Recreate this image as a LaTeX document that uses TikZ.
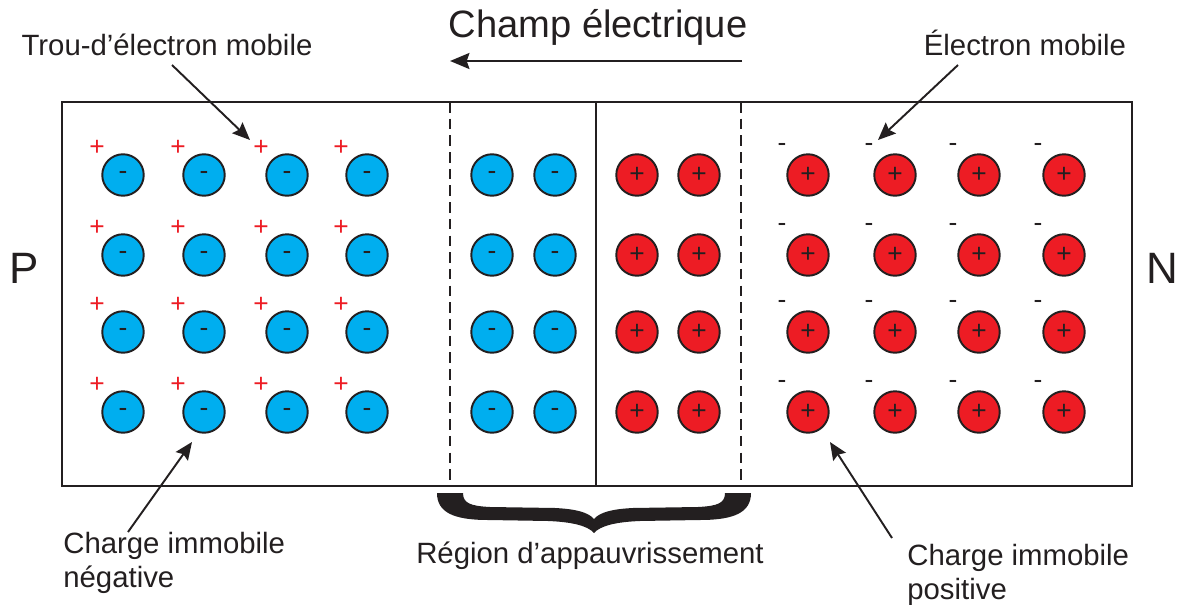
\documentclass[tikz,border=0pt]{standalone}
\usepackage{fontspec}
\setmainfont{Liberation Sans}
\usetikzlibrary{arrows.meta}
\definecolor{ink}{HTML}{231F20}
\definecolor{cblue}{HTML}{00AEEF}
\definecolor{cred}{HTML}{ED1C24}
\begin{document}
\begin{tikzpicture}[x=0.02cm,y=-0.02cm,
  ion/.style={circle,draw=ink,line width=1.1pt,minimum size=23.6pt,inner sep=0pt,font=\fontsize{15}{15}\selectfont,text=ink},
  negion/.style={ion,fill=cblue},
  posion/.style={ion,fill=cred},
  carrier/.style={inner sep=0pt,font=\fontsize{15}{15}\selectfont},
  lbl/.style={inner sep=0pt,font=\fontsize{16.7}{19.3}\selectfont,text=ink},
  pointer/.style={draw=ink,line width=1.1pt,-{Stealth[length=10pt,width=8.5pt,inset=1.5pt]}},
  fieldarrow/.style={draw=ink,line width=1.7pt,-{Stealth[length=11pt,width=9pt,inset=1.5pt]}},
  border/.style={draw=ink,line width=1.3pt},
  dashline/.style={draw=ink,line width=1pt,dash pattern=on 6pt off 3.5pt},
]
\useasboundingbox (0,0) rectangle (1181,605);

% crystal outline and region boundaries
\draw[border] (62,102) rectangle (1132,486);
\draw[dashline] (450,102) -- (450,486);
\draw[dashline] (741,102) -- (741,486);
\draw[draw=ink,line width=1.2pt] (596,102) -- (596,486);

% P side
\foreach \x [count=\i] in {123,204,287,367} {
  \foreach \y [count=\j] in {175,255,332,412} {
    \node[negion] (p\i\j) at (\x,\y) {-};
    \node[carrier,text=cred] (h\i\j) at (\x-26,\y-27) {+};
  }
}
% depletion region
\foreach \x [count=\i] in {492,555} {
  \foreach \y [count=\j] in {175,255,332,412} {
    \node[negion] (dn\i\j) at (\x,\y) {-};
  }
}
\foreach \x [count=\i] in {637,699} {
  \foreach \y [count=\j] in {175,255,332,412} {
    \node[posion] (dp\i\j) at (\x,\y) {+};
  }
}
% N side
\foreach \x [count=\i] in {808,895,979,1064} {
  \foreach \y [count=\j] in {175,255,332,412} {
    \node[posion] (n\i\j) at (\x,\y) {+};
    \node[carrier,text=ink] (e\i\j) at (\x-26,\y-28) {-};
  }
}

% side letters
\node[inner sep=0pt,font=\fontsize{25}{30}\selectfont,text=ink,anchor=base] (P) at (24,283) {P};
\node[inner sep=0pt,font=\fontsize{25}{30}\selectfont,text=ink,anchor=base] (N) at (1162,283) {N};

% field
\node[lbl,anchor=base,font=\fontsize{21.7}{26}\selectfont] (champ) at (598,37) {Champ électrique};
\coordinate (fs) at (742,61);
\coordinate (fe) at (450,61);
\draw[fieldarrow] (fs) -- (fe);

% labels
\node[lbl,anchor=base] (trou) at (167,55) {Trou-d’électron mobile};
\node[lbl,anchor=base] (elec) at (1025,55) {Électron mobile};
\node[lbl,anchor=north west,align=left] (cneg) at (63,531.5) {Charge immobile\\négative};
\node[lbl,anchor=north west,align=left] (cpos) at (907,543.5) {Charge immobile\\positive};
\node[lbl,anchor=base] (region) at (590,563) {Région d’appauvrissement};

\coordinate (a1s) at (172,65);  \coordinate (a1e) at (250,140);
\coordinate (a2s) at (958,65);  \coordinate (a2e) at (878,140);
\coordinate (a3s) at (128,532); \coordinate (a3e) at (192,442);
\coordinate (a4s) at (892,538); \coordinate (a4e) at (830,442);
\draw[pointer] (a1s) -- (a1e);
\draw[pointer] (a2s) -- (a2e);
\draw[pointer] (a3s) -- (a3e);
\draw[pointer] (a4s) -- (a4e);

% brace
\fill[ink] (437,493) -- (463,493)
  .. controls (463,503) and (470,506) .. (490,507) -- (555,508)
  .. controls (575,509) and (588,512) .. (594,519)
  .. controls (600,512) and (613,509) .. (633,508) -- (698,507)
  .. controls (718,506) and (725,503) .. (725,493) -- (751,493)
  .. controls (751,512) and (735,520) .. (700,520) -- (640,521)
  .. controls (615,522) and (600,526) .. (594,533)
  .. controls (588,526) and (573,522) .. (548,521) -- (488,520)
  .. controls (453,520) and (437,512) .. (437,493) -- cycle;
\end{tikzpicture}
\end{document}
